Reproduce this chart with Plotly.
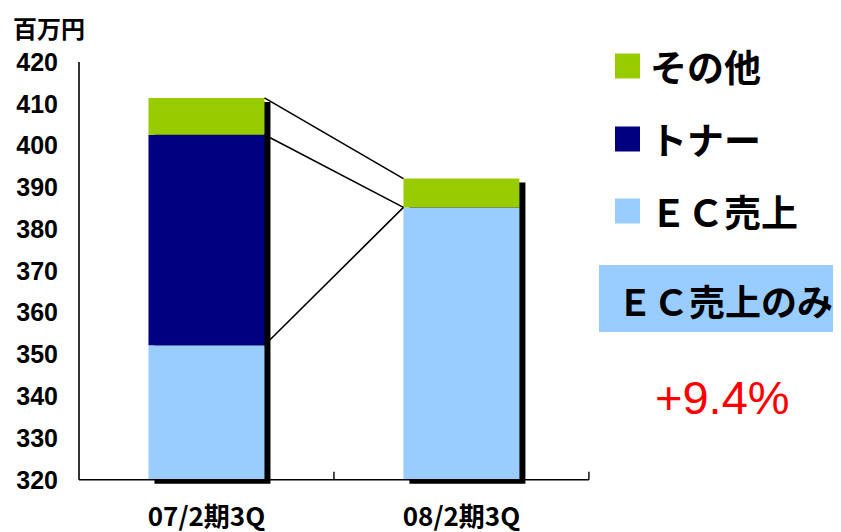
import plotly.graph_objects as go

# ---- data ----
categories = ["07/2期3Q", "08/2期3Q"]
series_names = ["ＥＣ売上", "トナー", "その他"]
ec_sales = [352.2, 385.2]
toner = [50.4, 0.0]
other = [8.8, 6.9]
y_ticks = [320, 330, 340, 350, 360, 370, 380, 390, 400, 410, 420]
unit_label = "百万円"
box_label = "ＥＣ売上のみ"
growth_label = "+9.4%"

colors = {"ＥＣ売上": "#99CCFF", "トナー": "#000080", "その他": "#99CC00"}

# ---- layout geometry (window pixels; page body has an 8px margin) ----
OFF = 8
FW, FH = 841 - OFF, 532 - OFF
L, T, B = 79 - OFF, 62 - OFF, 48
XR = [-0.5, 1.52]
W = 515
R = FW - L - W
H = FH - T - B
YR = [319.0, 420.0]
base0 = 320.0

def px(x):
    return (x - OFF - L) / W

def py(y):
    return 1 - (y - OFF - T) / H

x = list(range(len(categories)))
bw = 0.455
hw = bw / 2
unit_px = H / (YR[1] - YR[0])
sh_dx = 6 / 255.0
sh_dy = 4 / unit_px

lvl1 = [e for e in ec_sales]
lvl2 = [e + t for e, t in zip(ec_sales, toner)]
lvl3 = [e + t + o for e, t, o in zip(ec_sales, toner, other)]

fig = go.Figure()

# shadows
fig.add_trace(go.Bar(
    x=x, y=[v - base0 for v in lvl3], base=[base0 - sh_dy] * len(x),
    width=bw, offset=-hw + sh_dx, marker=dict(color="black", line=dict(width=0)),
    showlegend=False, hoverinfo="skip"))

# stacked segments (base + length)
stack = [(series_names[0], [e - base0 for e in ec_sales], [base0] * len(x)),
         (series_names[1], toner, lvl1),
         (series_names[2], other, lvl2)]
for name, vals, bases in stack:
    fig.add_trace(go.Bar(
        x=x, y=vals, base=bases, width=bw, offset=-hw, name=name,
        marker=dict(color=colors[name], line=dict(width=0)), showlegend=False))

# series lines
for lv in (lvl3, lvl2, lvl1):
    fig.add_trace(go.Scatter(
        x=[x[0] + hw, x[1] - hw], y=[lv[0], lv[1]], mode="lines",
        line=dict(color="black", width=1.6), showlegend=False, hoverinfo="skip"))

shapes = []
# x axis line
shapes.append(dict(type="line", xref="x", yref="y", x0=-0.5, x1=1.5, y0=base0, y1=base0,
                   line=dict(color="black", width=1.6)))
# y axis line
shapes.append(dict(type="line", xref="paper", yref="y", x0=0, x1=0, y0=base0, y1=420.5,
                   line=dict(color="black", width=1.6)))
# category boundary ticks
for b in (0.5, 1.5):
    shapes.append(dict(type="line", xref="x", yref="y", x0=b, x1=b, y0=base0,
                       y1=base0 + 8 / unit_px, line=dict(color="black", width=1.4)))

annotations = []
annotations.append(dict(text="<b>" + unit_label + "</b>", xref="paper", yref="paper",
                        x=px(12), y=py(9), xanchor="left", yanchor="top", showarrow=False,
                        borderpad=0,
                        font=dict(family="Noto Sans CJK JP", size=24, color="black")))

# legend (manual)
legend_order = [series_names[2], series_names[1], series_names[0]]
legend_y = [66, 139, 211]
for name, cy in zip(legend_order, legend_y):
    shapes.append(dict(type="rect", xref="paper", yref="paper",
                       x0=px(615), x1=px(640), y0=py(cy - 12.5), y1=py(cy + 12.5),
                       fillcolor=colors[name], line=dict(width=0)))
    annotations.append(dict(text="<b>" + name + "</b>", xref="paper", yref="paper",
                            x=px(648), y=py(cy), xanchor="left", yanchor="middle",
                            showarrow=False,
                            font=dict(family="Noto Sans CJK JP", size=37, color="black")))

# EC-only box
shapes.append(dict(type="rect", xref="paper", yref="paper",
                   x0=px(599), x1=px(850), y0=py(332), y1=py(265),
                   fillcolor="#99CCFF", line=dict(width=0)))
annotations.append(dict(text="<b>" + box_label + "</b>", xref="paper", yref="paper",
                        x=px(615), y=py(300), xanchor="left", yanchor="middle", showarrow=False,
                        font=dict(family="Noto Sans CJK JP", size=36, color="black")))
annotations.append(dict(text=growth_label, xref="paper", yref="paper",
                        x=px(722), y=py(397), xanchor="center", yanchor="middle", showarrow=False,
                        font=dict(family="Liberation Sans", size=47, color="#FF0000")))

fig.update_layout(
    width=FW, height=FH,
    margin=dict(l=L, r=R, t=T, b=B, autoexpand=False),
    paper_bgcolor="white", plot_bgcolor="white",
    barmode="overlay", showlegend=False,
    shapes=shapes, annotations=annotations,
    xaxis=dict(range=XR, tickvals=x, ticktext=["<b>" + c + "</b>" for c in categories],
               showgrid=False, zeroline=False, showline=False, ticks="",
               automargin=False, ticklabelstandoff=15,
               tickfont=dict(family="Noto Sans CJK JP", size=26, color="black")),
    yaxis=dict(range=YR, tickvals=y_ticks, ticktext=["<b>%d</b>" % v for v in y_ticks],
               showgrid=False, zeroline=False, showline=False, ticks="",
               automargin=False, ticklabelstandoff=20,
               tickfont=dict(family="Liberation Sans", size=25, color="black")),
)

fig.write_html("out.html")
